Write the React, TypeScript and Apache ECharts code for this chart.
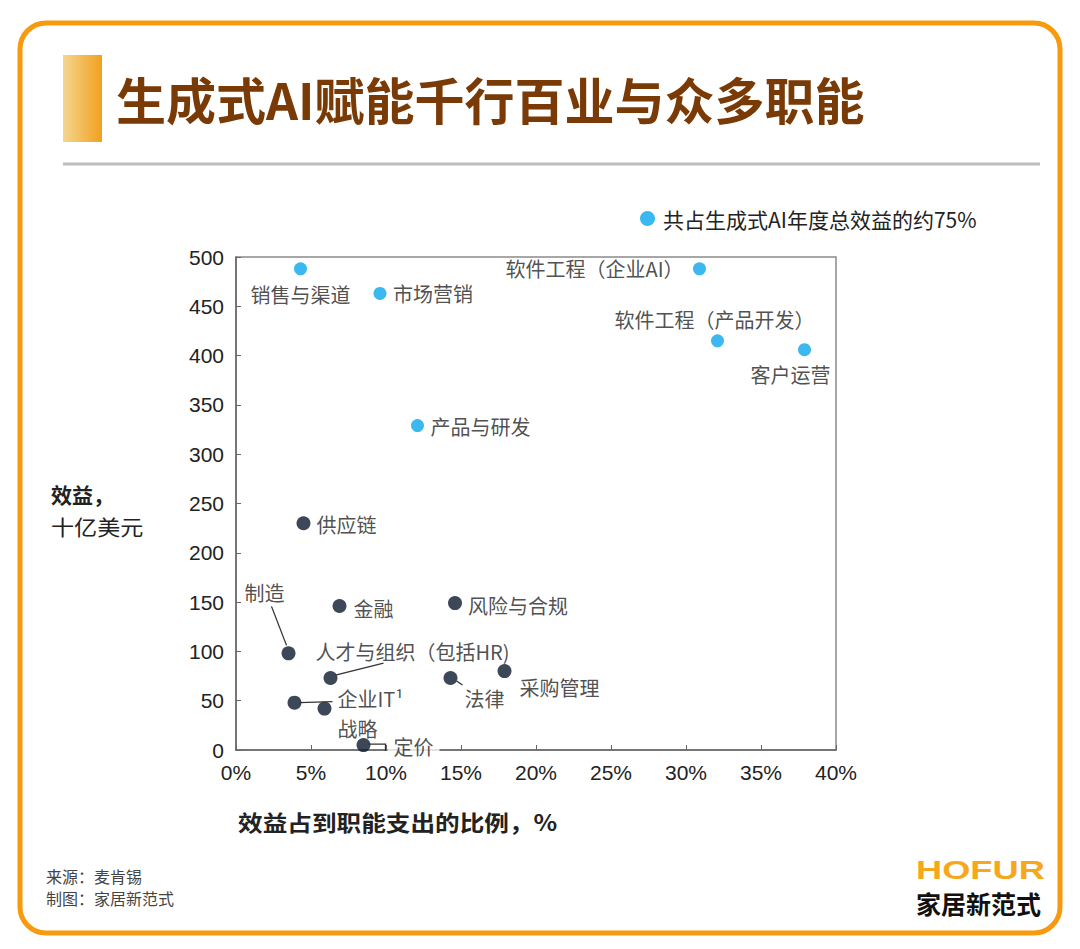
import React, { useEffect, useRef } from "react";
import * as echarts from "echarts";

const TITLE = "生成式AI赋能千行百业与众多职能";
const LEGEND_NAME = "共占生成式AI年度总效益的约75%";
const OTHER_NAME = "其他职能";
const Y_NAME_1 = "效益，";
const Y_NAME_2 = "十亿美元";
const X_NAME = "效益占到职能支出的比例，%";
const SOURCE_1 = "来源：麦肯锡";
const SOURCE_2 = "制图：家居新范式";
const LOGO_1 = "HOFUR";
const LOGO_2 = "家居新范式";

const X_MIN = 0;
const X_MAX = 40;
const X_STEP = 5;
const Y_MIN = 0;
const Y_MAX = 500;
const Y_STEP = 50;

// top functions (blue): share of function spend (%), benefit (billion USD)
const TOP_NAMES = ["销售与渠道", "市场营销", "软件工程（企业AI）", "软件工程（产品开发）", "客户运营", "产品与研发"];
const TOP_SHARE = [4.3, 9.6, 30.9, 32.1, 37.9, 12.1];
const TOP_VALUE = [488, 463, 488, 415, 406, 329];

// other functions (dark)
const OTHER_NAMES = ["供应链", "金融", "风险与合规", "制造", "人才与组织（包括HR)", "法律", "采购管理", "企业IT¹", "战略", "定价"];
const OTHER_SHARE = [4.5, 6.9, 14.6, 3.5, 6.3, 14.3, 17.9, 3.9, 5.9, 8.5];
const OTHER_VALUE = [230, 146, 149, 98, 73, 73, 80, 48, 42, 5];

// label placement styles (pixel offsets from the point)
const LABEL_STYLE: Record<string, { align: string; offset: number[]; bg?: boolean }> = {
  "销售与渠道": { align: "center", offset: [0, 26] },
  "市场营销": { align: "left", offset: [13, 0] },
  "软件工程（企业AI）": { align: "right", offset: [-16, 0] },
  "软件工程（产品开发）": { align: "center", offset: [-3, -21] },
  "客户运营": { align: "center", offset: [-14, 25] },
  "产品与研发": { align: "left", offset: [13, 1] },
  "供应链": { align: "left", offset: [13, 1] },
  "金融": { align: "left", offset: [14, 2] },
  "风险与合规": { align: "left", offset: [13, 2] },
  "制造": { align: "center", offset: [-24, -61] },
  "人才与组织（包括HR)": { align: "left", offset: [-15, -27] },
  "法律": { align: "center", offset: [34, 20] },
  "采购管理": { align: "left", offset: [15, 16] },
  "企业IT¹": { align: "left", offset: [43, -4] },
  "战略": { align: "center", offset: [33, 20] },
  "定价": { align: "left", offset: [24, 1], bg: true },
};

// leader lines (pixel offsets from the point)
const LEADERS: Record<string, number[][]> = {
  "制造": [[-2, -8], [-17, -47]],
  "人才与组织（包括HR)": [[5, -3], [53, -15]],
  "企业IT¹": [[5, 0], [38, -1]],
  "法律": [[6, 3], [12, 7]],
  "定价": [[5, -1], [22, -1], [22, 6]],
};

const BLUE = "#0AA6EC";
const DARK = "#0B1A2D";
const CJK = "'Noto Sans CJK SC', sans-serif";
const LATIN = "'Liberation Sans', Arial, sans-serif";

const GRID = { left: 236, top: 257, width: 600, height: 493 };

function labelFor(name: string) {
  const s = LABEL_STYLE[name];
  return {
    show: true,
    position: "inside",
    formatter: name,
    align: s.align,
    verticalAlign: "middle",
    offset: s.offset,
    color: "#222",
    fontSize: 20,
    fontFamily: CJK,
    textBorderWidth: 0,
    backgroundColor: s.bg ? "#fff" : "transparent",
    padding: s.bg ? [6, 6] : 0,
  };
}

function staticGraphics(): any[] {
  return [
    {
      type: "rect",
      shape: { x: 20, y: 23, width: 1040, height: 910, r: 26 },
      style: { fill: "none", stroke: "#F79A0E", lineWidth: 5 },
      z: 10,
    },
    {
      type: "rect",
      shape: { x: 63, y: 55, width: 39, height: 87 },
      style: {
        fill: new echarts.graphic.LinearGradient(0, 0, 1, 0, [
          { offset: 0, color: "#F4D690" },
          { offset: 1, color: "#F1A01E" },
        ]),
      },
    },
    {
      type: "text",
      x: 116,
      y: 98,
      style: {
        text: TITLE,
        fill: "#7A3A05",
        font: `bold 50px ${CJK}`,
        verticalAlign: "middle",
      },
    },
    {
      type: "line",
      shape: { x1: 63, y1: 164, x2: 1040, y2: 164 },
      style: { stroke: "#BDBDBD", lineWidth: 3 },
    },
    {
      type: "text",
      x: 51,
      y: 494,
      style: { text: Y_NAME_1, fill: "#222", font: `bold 21px ${CJK}`, verticalAlign: "middle" },
    },
    {
      type: "text",
      x: 51,
      y: 525,
      scaleX: 1.1,
      style: { text: Y_NAME_2, fill: "#222", font: `21px ${CJK}`, verticalAlign: "middle" },
    },
    {
      type: "text",
      x: 238,
      y: 822,
      scaleX: 1.12,
      style: { text: X_NAME, fill: "#222", font: `bold 22px ${CJK}`, verticalAlign: "middle" },
    },
    {
      type: "text",
      x: 46,
      y: 876,
      style: { text: SOURCE_1, fill: "#444", font: `16px ${CJK}`, verticalAlign: "middle" },
    },
    {
      type: "text",
      x: 46,
      y: 898,
      style: { text: SOURCE_2, fill: "#444", font: `16px ${CJK}`, verticalAlign: "middle" },
    },
    {
      type: "text",
      x: 916,
      y: 871,
      scaleX: 1.45,
      style: { text: LOGO_1, fill: "#F6A81C", font: `bold 25px ${LATIN}`, verticalAlign: "middle" },
    },
    {
      type: "text",
      x: 916,
      y: 903,
      style: { text: LOGO_2, fill: "#111", font: `bold 25px ${CJK}`, verticalAlign: "middle" },
    },
  ];
}

export default function App() {
  const ref = useRef<HTMLDivElement>(null);

  useEffect(() => {
    if (!ref.current) return;
    const chart = echarts.init(ref.current, undefined, { renderer: "svg" });

    const topData = TOP_NAMES.map((n, i) => ({
      name: n,
      value: [TOP_SHARE[i], TOP_VALUE[i]],
      label: labelFor(n),
    }));
    const otherData = OTHER_NAMES.map((n, i) => ({
      name: n,
      value: [OTHER_SHARE[i], OTHER_VALUE[i]],
      label: labelFor(n),
    }));

    const axisLabelStyle = { color: "#222", fontSize: 21, fontFamily: LATIN };

    chart.setOption({
      animation: false,
      backgroundColor: "#fff",
      grid: {
        ...GRID,
        show: true,
        borderColor: "#8a8a8a",
        borderWidth: 1.5,
        containLabel: false,
      },
      legend: {
        data: [LEGEND_NAME],
        left: 635,
        top: 203,
        icon: "circle",
        itemWidth: 15,
        itemHeight: 15,
        textStyle: { color: "#222", fontSize: 21, fontFamily: CJK, padding: [0, 0, 0, 3] },
      },
      xAxis: {
        type: "value",
        min: X_MIN,
        max: X_MAX,
        interval: X_STEP,
        axisLine: { show: true, lineStyle: { color: "#666", width: 1.5 } },
        axisTick: { show: true, inside: true, length: 5, lineStyle: { color: "#666" } },
        splitLine: { show: false },
        axisLabel: { ...axisLabelStyle, margin: 12, formatter: (v: number) => `${v}%` },
      },
      yAxis: {
        type: "value",
        min: Y_MIN,
        max: Y_MAX,
        interval: Y_STEP,
        axisLine: { show: true, lineStyle: { color: "#666", width: 1.5 } },
        axisTick: { show: true, inside: true, length: 5, lineStyle: { color: "#666" } },
        splitLine: { show: false },
        axisLabel: { ...axisLabelStyle, margin: 12 },
      },
      series: [
        {
          name: LEGEND_NAME,
          type: "scatter",
          symbol: "circle",
          symbolSize: 13,
          itemStyle: { color: BLUE },
          data: topData,
          z: 3,
        },
        {
          name: OTHER_NAME,
          type: "scatter",
          symbol: "circle",
          symbolSize: 14,
          itemStyle: { color: DARK },
          data: otherData,
          z: 3,
        },
      ],
      graphic: staticGraphics(),
    });

    // leader lines anchored on the data points through the chart's own scales
    const leaderEls: any[] = [];
    OTHER_NAMES.forEach((n, i) => {
      const offs = LEADERS[n];
      if (!offs) return;
      const p = chart.convertToPixel({ gridIndex: 0 }, [OTHER_SHARE[i], OTHER_VALUE[i]]) as number[];
      leaderEls.push({
        type: "polyline",
        shape: { points: offs.map((o) => [p[0] + o[0], p[1] + o[1]]) },
        style: { stroke: "#333", lineWidth: 1.3, fill: "none" },
        z: 20,
      });
    });
    chart.setOption({ graphic: [...staticGraphics(), ...leaderEls] });

    return () => chart.dispose();
  }, []);

  return (
    <div
      ref={ref}
      style={{ position: "absolute", left: 0, top: 0, width: 1080, height: 949 }}
    />
  );
}
